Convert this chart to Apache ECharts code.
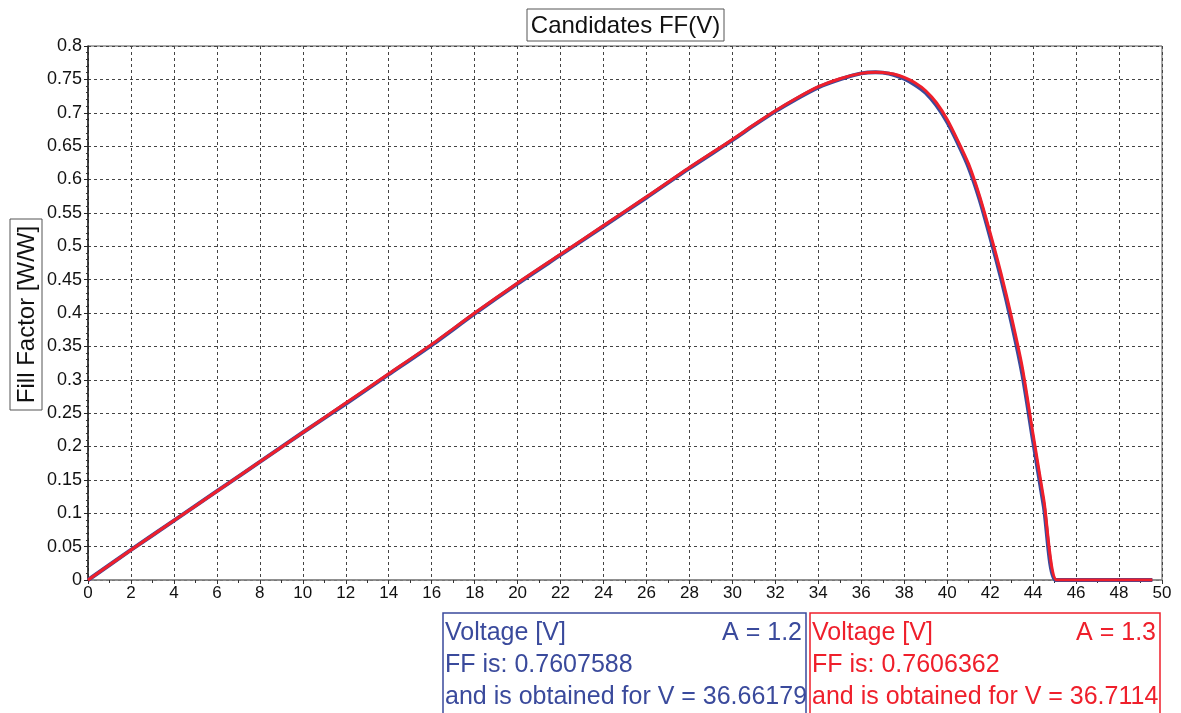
<!DOCTYPE html>
<html>
<head>
<meta charset="utf-8">
<script src="https://cdn.jsdelivr.net/npm/echarts@6/dist/echarts.min.js"></script>
<style>
html,body{margin:0;padding:0;background:#fff;}
#chart{width:1181px;height:713px;}
</style>
</head>
<body>
<div id="chart"></div>
<script>
// Voltage [V] sample points and Fill Factor values
const voltageA12 = [0,2,4,6,8,10,12,14,16,18,20,22,24,26,28,30,31,32,33,34,35,36,36.66,37,37.5,38,38.5,39,39.5,40,40.5,41,41.5,42,42.5,43,43.5,44,44.5,45.05,45.05,46,47,48,49.55];
const ffA12 = [0,0.045,0.089,0.133,0.177,0.221,0.264,0.308,0.352,0.399,0.444,0.487,0.530,0.573,0.617,0.659,0.681,0.702,0.721,0.738,0.750,0.759,0.7608,0.7601,0.757,0.751,0.742,0.730,0.711,0.686,0.654,0.618,0.571,0.514,0.453,0.385,0.308,0.208,0.110,0,0,0,0,0,0];

const voltageA13 = [0,2,4,6,8,10,12,14,16,18,20,22,24,26,28,30,31,32,33,34,35,36,36.71,37,37.5,38,38.5,39,39.5,40,40.5,41,41.5,42,42.5,43,43.5,44,44.5,45.1,45.1,46,47,48,49.55];
const ffA13 = [0,0.045,0.089,0.133,0.177,0.221,0.265,0.309,0.353,0.400,0.445,0.488,0.531,0.574,0.618,0.660,0.682,0.703,0.722,0.739,0.751,0.759,0.7606,0.7603,0.758,0.753,0.745,0.733,0.715,0.690,0.658,0.623,0.576,0.520,0.460,0.393,0.318,0.218,0.120,0,0,0,0,0,0];

const xTickInterval = 2;
const yTickInterval = 0.05;

const titleText = 'Candidates FF(V)';
const yAxisTitle = 'Fill Factor [W/W]';
const boxA12 = ['Voltage [V]', 'A = 1.2', 'FF is: 0.7607588', 'and is obtained for V = 36.66179'];
const boxA13 = ['Voltage [V]', 'A = 1.3', 'FF is: 0.7606362', 'and is obtained for V = 36.7114'];

const BLUE = '#3a4a9c';
const RED = '#ef1f2b';
const FONT = 'Liberation Sans, Arial, sans-serif';

function pairs(xs, ys){ return xs.map((x,i)=>[x, ys[i]]); }

function boxGraphic(left, width, color, lines){
  const f = '25px ' + FONT;
  return {
    type: 'group',
    children: [
      {type:'rect', shape:{x:left, y:613, width:width, height:102}, style:{fill:'none', stroke:color, lineWidth:1.5}},
      {type:'text', x:left+2, y:633, style:{text:lines[0], font:f, fill:color, textAlign:'left', textVerticalAlign:'middle'}},
      {type:'text', x:left+width-4, y:633, style:{text:lines[1], font:f, fill:color, textAlign:'right', textVerticalAlign:'middle'}},
      {type:'text', x:left+2, y:665, style:{text:lines[2], font:f, fill:color, textAlign:'left', textVerticalAlign:'middle'}},
      {type:'text', x:left+2, y:697, style:{text:lines[3], font:f, fill:color, textAlign:'left', textVerticalAlign:'middle'}}
    ]
  };
}

const chart = echarts.init(document.getElementById('chart'), null, {renderer:'canvas'});
chart.setOption({
  animation: false,
  backgroundColor: '#ffffff',
  grid: {left:88, right:19, top:46, bottom:133, show:true, borderColor:'#555', borderWidth:1},
  xAxis: {
    type:'value', min:0, max:50, interval:xTickInterval,
    axisLine:{show:true, onZero:false, lineStyle:{color:'#888', width:1.5}},
    axisTick:{show:true, length:4, lineStyle:{color:'#333'}},
    minorTick:{show:true, splitNumber:2, length:3, lineStyle:{color:'#333'}},
    axisLabel:{color:'#111', fontSize:17, fontFamily:FONT, margin:5},
    splitLine:{show:true, lineStyle:{color:'#444', type:[3,3], width:1}}
  },
  yAxis: {
    type:'value', min:0, max:0.8, interval:yTickInterval,
    axisLine:{show:true, onZero:false, lineStyle:{color:'#222', width:1.5}},
    axisTick:{show:true, length:4, lineStyle:{color:'#222'}},
    minorTick:{show:true, splitNumber:5, length:2, lineStyle:{color:'#333'}},
    axisLabel:{color:'#111', fontSize:18, fontFamily:FONT, margin:6},
    splitLine:{show:true, lineStyle:{color:'#444', type:[3,3], width:1}}
  },
  series: [
    {type:'line', name:'A = 1.2', data:pairs(voltageA12, ffA12), showSymbol:false, smooth:0.25,
     lineStyle:{color:BLUE, width:4}, z:2},
    {type:'line', name:'A = 1.3', data:pairs(voltageA13, ffA13), showSymbol:false, smooth:0.25,
     lineStyle:{color:RED, width:3}, z:3}
  ],
  graphic: [
    {type:'group', children:[
      {type:'rect', shape:{x:527, y:9, width:197, height:32}, style:{fill:'#fff', stroke:'#555', lineWidth:1}},
      {type:'text', x:625.5, y:26, style:{text:titleText, font:'24px '+FONT, fill:'#111', textAlign:'center', textVerticalAlign:'middle'}}
    ]},
    {type:'group', children:[
      {type:'rect', shape:{x:10, y:219, width:32, height:191}, style:{fill:'#fff', stroke:'#555', lineWidth:1}},
      {type:'text', x:27, y:314.5, rotation:Math.PI/2, style:{text:yAxisTitle, font:'24px '+FONT, fill:'#111', textAlign:'center', textVerticalAlign:'middle'}}
    ]},
    boxGraphic(443, 363, BLUE, boxA12),
    boxGraphic(810, 350, RED, boxA13)
  ]
});
</script>
</body>
</html>
